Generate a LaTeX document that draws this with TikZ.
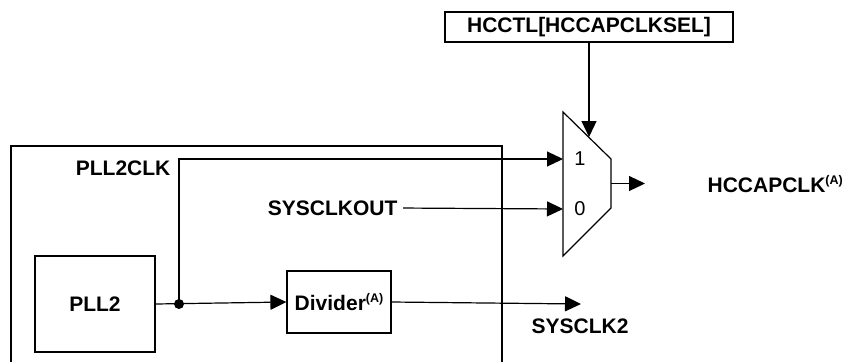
\documentclass[tikz,border=0pt]{standalone}
\usepackage{fontspec}
\setmainfont{Liberation Sans}
\usetikzlibrary{arrows.meta}
\newcommand{\supA}{\raisebox{8pt}{\fontsize{12.5}{13}\selectfont (A)}}
\begin{document}
\begin{tikzpicture}[x=1pt,y=-1pt,line width=1.2pt,
  >={Triangle[length=16pt,width=15pt]},
  lbl/.style={font=\fontsize{21}{24}\selectfont\bfseries,inner sep=0pt},
  dig/.style={font=\fontsize{20}{24}\selectfont,inner sep=0pt},
  blk/.style={draw,inner sep=0pt,font=\fontsize{21}{24}\selectfont\bfseries}]
\useasboundingbox (0,0) rectangle (845,362);
% outer region
\coordinate (ob1) at (11,362);
\coordinate (ob2) at (11,146);
\coordinate (ob3) at (502,146);
\coordinate (ob4) at (502,362);
\draw (ob1) -- (ob2) -- (ob3) -- (ob4);
% blocks
\node[blk,minimum width=120pt,minimum height=96pt] (pll) at (95,304) {PLL2};
\node[blk,minimum width=104pt,minimum height=62pt] (div) at (339,302) {Divider\supA};
\node[blk,minimum width=288pt,minimum height=30pt] (hcctl) at (589,27) {HCCTL[HCCAPCLKSEL]};
% mux
\coordinate (m1) at (563,112);
\coordinate (m2) at (611,159);
\coordinate (m3) at (611,208);
\coordinate (m4) at (563,256);
\draw (m1) -- (m2) -- (m3) -- (m4) -- cycle;
\node[dig] (d1) at (580,159) {1};
\node[dig] (d0) at (580,209) {0};
\coordinate (in1) at (563,159);
\coordinate (in0) at (563,209);
\coordinate (sel) at (589,137);
\coordinate (mo) at (611,183.5);
\coordinate (out) at (645,183.5);
% labels
\node[lbl,anchor=east] (pllclk) at (171,168) {PLL2CLK};
\node[lbl,anchor=east] (sysout) at (398,208) {SYSCLKOUT};
\node[lbl] (sys2) at (580,326) {SYSCLK2};
\node[lbl,anchor=west] (hccap) at (707,184) {HCCAPCLK\supA};
% junction
\coordinate (j) at (179,304);
\coordinate (s2) at (581,304);
% connectors
\draw[->] (pll.east) -- (div.west);
\fill (j) circle (5pt);
\draw[->] (j) |- (in1);
\draw[->,shorten <=5pt] (sysout.east) -- (in0);
\draw[->] (div.east) -- (s2);
\draw[->] (mo) -- (out);
\draw[->] (hcctl.south) -- (sel);
\end{tikzpicture}
\end{document}
